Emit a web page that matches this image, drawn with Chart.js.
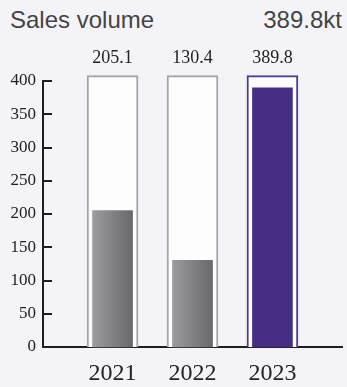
<!DOCTYPE html>
<html lang="en">
<head>
<meta charset="utf-8" />
<title>Sales volume</title>
<script src="https://cdn.jsdelivr.net/npm/chart.js@4.4.1/dist/chart.umd.min.js"></script>
<style>
  *{box-sizing:border-box;}
  html,body{margin:0;padding:0;background:#f4f4f8;}
  .wrap{position:relative;width:347px;height:387px;}
  .head{position:absolute;left:10px;right:5px;top:0;height:40px;display:flex;justify-content:space-between;
    font:24px "Liberation Sans",Arial,sans-serif;color:#444;line-height:1;padding-top:8px;}
  canvas{position:absolute;left:0;top:0;}
</style>
</head>
<body>
<div class="wrap">
  <div class="head"><span>Sales volume</span><span id="total"></span></div>
  <canvas id="chart" width="347" height="387"></canvas>
</div>
<script>
// yearly sales volume, kt
const years = [2021, 2022, 2023];
const volumes = [205.1, 130.4, 389.8];
const capacity = [408, 408, 408];   // frame drawn round every bar
const yTicks = [0, 50, 100, 150, 200, 250, 300, 350, 400];
const highlight = [false, false, true];

const PURPLE = '#472e85';
const FRAME_GRAY = '#a4a4a8';
const SERIF = '"Liberation Serif","Times New Roman",serif';

document.getElementById('total').textContent = volumes[volumes.length - 1].toFixed(1) + 'kt';

function barFill(c) {
  if (highlight[c.dataIndex]) return PURPLE;
  const chart = c.chart;
  if (!chart.chartArea) return '#85858a';
  const x = chart.scales.x.getPixelForValue(years[c.dataIndex]);
  const g = chart.ctx.createLinearGradient(x - 20, 0, x + 20, 0);
  g.addColorStop(0, '#9b9ba0');
  g.addColorStop(1, '#68686c');
  return g;
}

// small ticks on the inner side of the value axis + value labels above the frames
const decorations = {
  id: 'decorations',
  afterDraw(chart) {
    const { ctx, chartArea, scales } = chart;
    ctx.save();
    ctx.strokeStyle = '#1e1e1e';
    ctx.lineWidth = 2;
    yTicks.forEach(v => {
      const y = Math.round(scales.y.getPixelForValue(v));
      ctx.beginPath();
      ctx.moveTo(chartArea.left, y);
      ctx.lineTo(chartArea.left + 9, y);
      ctx.stroke();
    });
    ctx.fillStyle = '#222';
    ctx.font = '18px ' + SERIF;
    ctx.textAlign = 'center';
    ctx.textBaseline = 'alphabetic';
    years.forEach((yr, i) => {
      ctx.fillText(volumes[i].toFixed(1), scales.x.getPixelForValue(yr), 63);
    });
    ctx.restore();
  }
};

new Chart(document.getElementById('chart'), {
  type: 'bar',
  data: {
    datasets: [
      {
        data: years.map((yr, i) => ({ x: yr, y: volumes[i] })),
        backgroundColor: barFill,
        borderWidth: 0,
        barThickness: 40,
        grouped: false,
        order: 0,
        clip: false
      },
      {
        data: years.map((yr, i) => ({ x: yr, y: capacity[i] })),
        backgroundColor: '#fdfdfe',
        borderColor: highlight.map(h => h ? '#4f3a94' : FRAME_GRAY),
        borderWidth: 2,
        barThickness: 51,
        grouped: false,
        order: 1,
        clip: false
      }
    ]
  },
  options: {
    responsive: false,
    animation: false,
    layout: { padding: { top: 81, right: 5, bottom: 0, left: 0 } },
    plugins: { legend: { display: false }, tooltip: { enabled: false } },
    scales: {
      x: {
        type: 'linear',
        offset: false,
        min: 2020.13,
        max: 2023.87,
        afterBuildTicks(s) { s.ticks = years.map(v => ({ value: v })); },
        afterFit(s) { s.height = 40; },
        grid: { display: false, drawTicks: false },
        border: { display: true, color: '#1e1e1e', width: 2 },
        ticks: { color: '#222', font: { family: SERIF, size: 24 }, padding: 12, callback: v => String(v), maxRotation: 0 }
      },
      y: {
        min: 0,
        max: 400,
        afterBuildTicks(s) { s.ticks = yTicks.map(v => ({ value: v })); },
        afterFit(s) { s.width = 43; },
        grid: { display: false, drawTicks: false },
        border: { display: true, color: '#1e1e1e', width: 2 },
        ticks: { color: '#222', font: { family: SERIF, size: 17 }, padding: 7 }
      }
    }
  },
  plugins: [decorations]
});
</script>
</body>
</html>
